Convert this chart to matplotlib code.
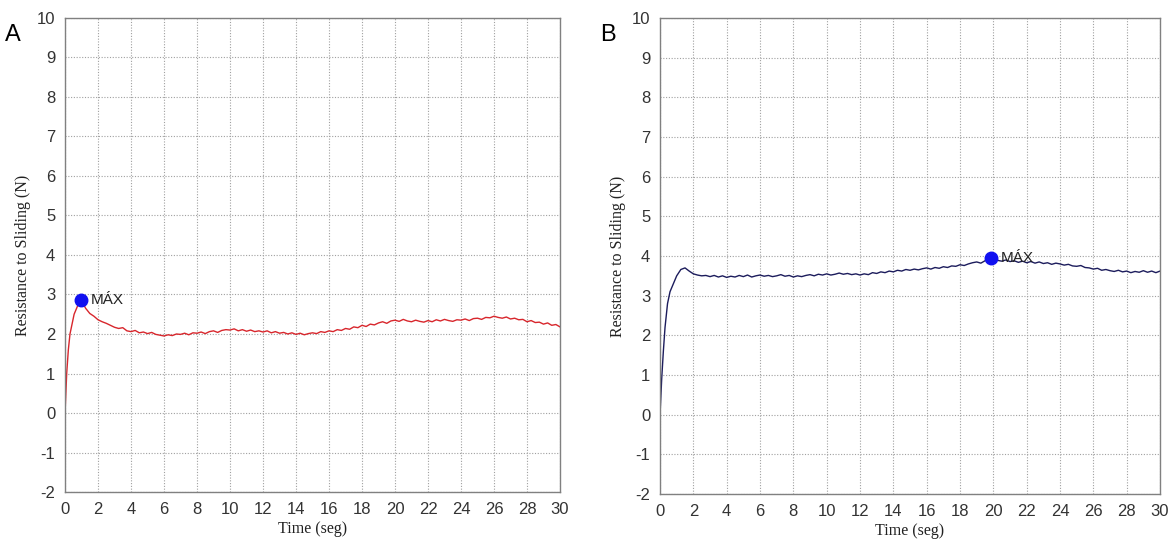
import numpy as np
import matplotlib.pyplot as plt

plt.rcParams["axes.unicode_minus"] = False

# panel A: fast rise, then a noisy plateau
rise_t_a = [0, 0.1, 0.2, 0.3, 0.55, 0.8, 0.95, 1.05, 1.25, 1.5, 1.75]
rise_v_a = [0.0, 1.0, 1.6, 2.0, 2.5, 2.75, 2.82, 2.8, 2.65, 2.52, 2.45]
plateau_v_a = [
    2.36, 2.31, 2.27, 2.22, 2.17, 2.14, 2.16, 2.08, 2.06, 2.09, 2.03, 2.05,
    2.01, 2.04, 1.99, 1.97, 1.95, 1.98, 1.96, 2.00, 1.99, 2.02, 1.98, 2.03,
    2.02, 2.05, 2.01, 2.06, 2.08, 2.04, 2.09, 2.11, 2.10, 2.13, 2.08, 2.11,
    2.07, 2.10, 2.06, 2.08, 2.05, 2.08, 2.03, 2.06, 2.02, 2.04, 2.00, 2.03,
    1.99, 2.02, 1.98, 2.01, 2.03, 2.01, 2.06, 2.04, 2.08, 2.06, 2.11, 2.09,
    2.14, 2.12, 2.18, 2.16, 2.22, 2.19, 2.25, 2.23, 2.28, 2.31, 2.27, 2.33,
    2.35, 2.32, 2.37, 2.33, 2.31, 2.35, 2.32, 2.30, 2.34, 2.31, 2.36, 2.33,
    2.37, 2.34, 2.32, 2.36, 2.35, 2.38, 2.34, 2.39, 2.40, 2.37, 2.42, 2.41,
    2.45, 2.42, 2.40, 2.43, 2.38, 2.40, 2.36, 2.37, 2.31, 2.34, 2.29, 2.30,
    2.25, 2.28, 2.22, 2.24, 2.18,
]
max_a = (0.97, 2.86)

# panel B
rise_t_b = [0, 0.1, 0.2, 0.3, 0.45, 0.6, 0.8, 1.0, 1.25, 1.5, 1.75]
rise_v_b = [0.0, 0.9, 1.6, 2.2, 2.8, 3.1, 3.3, 3.5, 3.66, 3.70, 3.62]
plateau_v_b = [
    3.55, 3.52, 3.50, 3.51, 3.48, 3.51, 3.47, 3.50, 3.46, 3.49, 3.47, 3.51,
    3.48, 3.52, 3.47, 3.50, 3.52, 3.49, 3.51, 3.48, 3.50, 3.53, 3.49, 3.51,
    3.47, 3.50, 3.48, 3.51, 3.53, 3.50, 3.54, 3.52, 3.55, 3.52, 3.54, 3.57,
    3.54, 3.56, 3.53, 3.55, 3.52, 3.55, 3.53, 3.58, 3.56, 3.60, 3.58, 3.62,
    3.60, 3.64, 3.62, 3.66, 3.64, 3.67, 3.65, 3.68, 3.70, 3.67, 3.71, 3.69,
    3.73, 3.71, 3.75, 3.74, 3.78, 3.76, 3.80, 3.83, 3.85, 3.82, 3.88, 3.91,
    3.93, 3.89, 3.87, 3.90, 3.86, 3.88, 3.84, 3.87, 3.83, 3.86, 3.82, 3.85,
    3.81, 3.83, 3.79, 3.82, 3.80, 3.77, 3.79, 3.75, 3.74, 3.76, 3.71, 3.70,
    3.67, 3.69, 3.64, 3.66, 3.63, 3.61, 3.64, 3.60, 3.62, 3.58, 3.61, 3.59,
    3.63, 3.59, 3.62, 3.58, 3.62,
]
max_b = (19.85, 3.95)

plateau_t = np.arange(2, 30.001, 0.25)

x_ticks = list(range(0, 31, 2))
y_ticks = list(range(-2, 11))

fig = plt.figure(figsize=(11.74, 5.43), dpi=100)
ax_a = fig.add_axes([0.0554, 0.0939, 0.4216, 0.873])
ax_b = fig.add_axes([0.5622, 0.0902, 0.4259, 0.8767])

panels = [
    (ax_a, rise_t_a, rise_v_a, plateau_v_a, max_a, "#d8262c", "A", 0.004),
    (ax_b, rise_t_b, rise_v_b, plateau_v_b, max_b, "#1c1c5c", "B", 0.511),
]

for ax, rt, rv, pv, mx, col, tag, tag_x in panels:
    t = np.concatenate([rt, plateau_t])
    v = np.concatenate([rv, pv])
    ax.plot(t, v, color=col, lw=1.0)
    ax.plot(*mx, "o", color="#1010f0", ms=9, zorder=5)
    ax.annotate("MÁX", mx, xytext=(7, 0), textcoords="offset points",
                va="center", fontsize=11, color="#222222",
                family="Liberation Sans")

    ax.set_xlim(0, 30)
    ax.set_ylim(-2, 10)
    ax.set_xticks(x_ticks)
    ax.set_yticks(y_ticks)
    ax.grid(True, ls=(0, (1, 1.5)), color="#a0a0a0", lw=0.8)
    ax.set_axisbelow(True)
    ax.tick_params(length=0, labelsize=12, labelcolor="#333333", pad=7)
    for lab in ax.get_xticklabels() + ax.get_yticklabels():
        lab.set_family("Liberation Sans")
    for s in ax.spines.values():
        s.set_color("#808080")
        s.set_linewidth(1.0)

    ax.set_xlabel("Time (seg)", family="Liberation Serif", fontsize=11.5,
                  color="#222222", labelpad=3)
    ax.set_ylabel("Resistance to Sliding (N)", family="Liberation Serif",
                  fontsize=11.5, color="#222222", labelpad=4)
    fig.text(tag_x, 0.935, tag, fontsize=17, family="Liberation Sans",
             va="center")

fig.savefig("out.png", dpi=100)
